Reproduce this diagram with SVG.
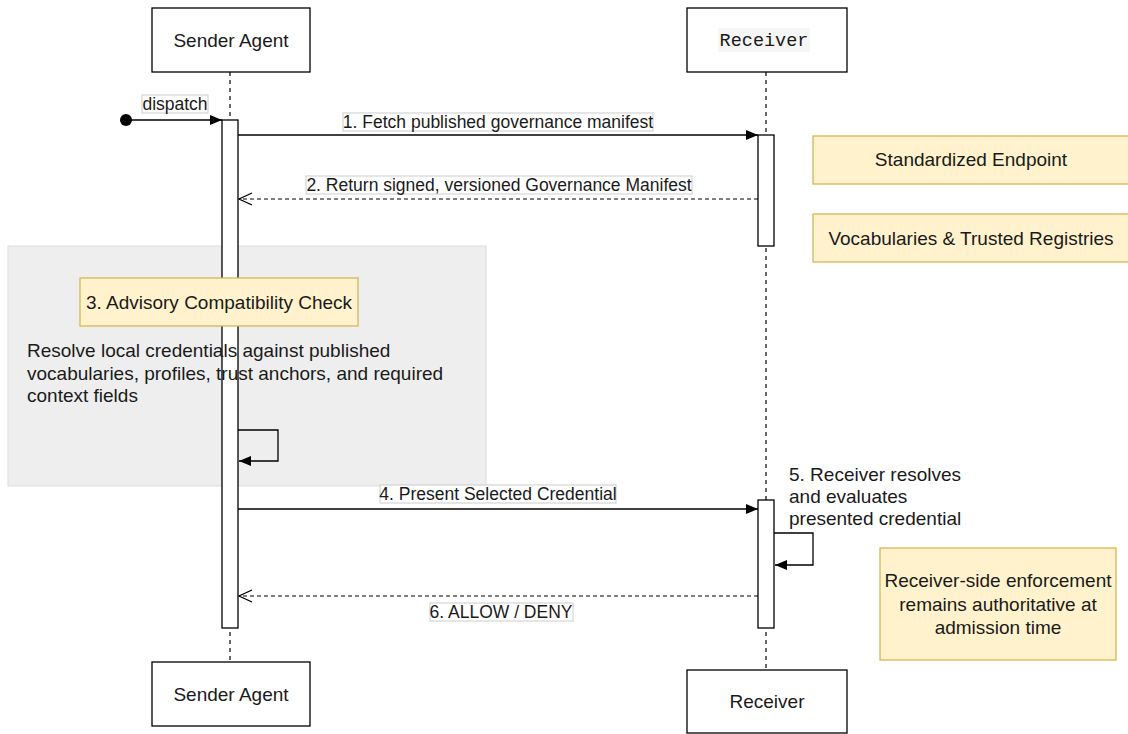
<svg xmlns="http://www.w3.org/2000/svg" width="1128" height="734" viewBox="0 0 1128 734">
<defs>
<style>
.t{font-family:"Liberation Sans",Arial,sans-serif;fill:#1a1a1a}
.n{font-size:19px}
.l{font-size:17.5px}
.box{fill:#ffffff;stroke:#000;stroke-width:1.3}
.note{fill:#fff2cc;stroke:#d6b656;stroke-width:1.3}
.life{stroke:#000;stroke-width:1.2;stroke-dasharray:4 4;fill:none}
.act{fill:#ffffff;stroke:#000;stroke-width:1.3}
.msg{stroke:#000;stroke-width:1.3;fill:none}
.ret{stroke:#000;stroke-width:1.2;fill:none;stroke-dasharray:4 3}
.lbg{fill:#ffffff;stroke:#cccccc;stroke-width:1}
</style>
<marker id="block" markerUnits="userSpaceOnUse" markerWidth="14" markerHeight="12" refX="13" refY="6" orient="auto">
<path d="M1,1 L13,6 L1,11 Z" fill="#000"/>
</marker>
<marker id="open" markerUnits="userSpaceOnUse" markerWidth="16" markerHeight="14" refX="14" refY="7" orient="auto">
<path d="M1,1 L14,7 L1,13" fill="none" stroke="#000" stroke-width="1.3"/>
</marker>
</defs>
<rect width="1128" height="734" fill="#ffffff"/>

<g id="lifelines">
<line class="life" x1="230" y1="72" x2="230" y2="662"/>
<line class="life" x1="766" y1="72" x2="766" y2="670"/>
</g>

<g id="sender-top">
<rect class="box" x="152" y="8" width="158" height="64"/>
<text class="t n" x="231" y="47" text-anchor="middle">Sender Agent</text>
</g>
<g id="receiver-top">
<rect class="box" x="687" y="8" width="160" height="64"/>
<rect x="718" y="28" width="92" height="24" fill="#f6f6f6"/>
<text x="764" y="46" text-anchor="middle" font-family="'Liberation Mono','Courier New',monospace" font-size="18.5" fill="#1a1a1a">Receiver</text>
</g>

<g id="region-check">
<rect x="8" y="246" width="478" height="240" fill="#eeeeee" stroke="#dddddd" stroke-width="1"/>
</g>

<g id="sender-activation">
<rect class="act" x="222" y="120" width="16" height="508"/>
</g>
<g id="receiver-activation-1">
<rect class="act" x="758" y="135" width="16" height="111"/>
</g>
<g id="receiver-activation-2">
<rect class="act" x="758" y="500" width="16" height="128"/>
</g>

<g id="check-note">
<rect class="note" x="80" y="278" width="278" height="48"/>
<text class="t n" x="219" y="309" text-anchor="middle">3. Advisory Compatibility Check</text>
</g>
<g id="check-text">
<text class="t n" x="27" y="357">Resolve local credentials against published</text>
<text class="t n" x="27" y="380">vocabularies, profiles, trust anchors, and required</text>
<text class="t n" x="27" y="402">context fields</text>
</g>

<g id="standardized-endpoint">
<rect class="note" x="813" y="136" width="320" height="48"/>
<text class="t n" x="971" y="166" text-anchor="middle">Standardized Endpoint</text>
</g>
<g id="vocabularies">
<rect class="note" x="813" y="214" width="320" height="48"/>
<text class="t n" x="971" y="245" text-anchor="middle">Vocabularies &amp; Trusted Registries</text>
</g>

<g id="receiver-step5">
<text class="t n" x="789" y="481">5. Receiver resolves</text>
<text class="t n" x="789" y="503">and evaluates</text>
<text class="t n" x="789" y="525">presented credential</text>
</g>

<g id="enforcement-note">
<rect class="note" x="880" y="548" width="236" height="112"/>
<text class="t n" x="998" y="587" text-anchor="middle">Receiver-side enforcement</text>
<text class="t n" x="998" y="611" text-anchor="middle">remains authoritative at</text>
<text class="t n" x="998" y="634" text-anchor="middle">admission time</text>
</g>

<g id="sender-bottom">
<rect class="box" x="152" y="662" width="158" height="64"/>
<text class="t n" x="231" y="701" text-anchor="middle">Sender Agent</text>
</g>
<g id="receiver-bottom">
<rect class="box" x="687" y="670" width="160" height="63"/>
<text class="t n" x="767" y="708" text-anchor="middle">Receiver</text>
</g>

<g id="connectors">
<circle cx="126" cy="120" r="6" fill="#000"/>
<line class="msg" x1="126" y1="120" x2="222" y2="120" marker-end="url(#block)"/>
<rect class="lbg" x="142" y="95" width="66" height="18"/>
<text class="t l" x="175" y="110" text-anchor="middle">dispatch</text>

<line class="msg" x1="238" y1="135" x2="758" y2="135" marker-end="url(#block)"/>
<rect class="lbg" x="343" y="113" width="310" height="18"/>
<text class="t l" x="498" y="128" text-anchor="middle">1. Fetch published governance manifest</text>

<line class="ret" x1="758" y1="199" x2="239" y2="199" marker-end="url(#open)"/>
<rect class="lbg" x="306" y="176" width="386" height="18"/>
<text class="t l" x="499" y="191" text-anchor="middle">2. Return signed, versioned Governance Manifest</text>

<path class="msg" d="M238,430 H278 V461 H239" marker-end="url(#block)"/>

<line class="msg" x1="238" y1="509" x2="758" y2="509" marker-end="url(#block)"/>
<rect class="lbg" x="380" y="485" width="236" height="18"/>
<text class="t l" x="498" y="500" text-anchor="middle">4. Present Selected Credential</text>

<path class="msg" d="M774,533 H813 V565 H775" marker-end="url(#block)"/>

<line class="ret" x1="758" y1="596" x2="239" y2="596" marker-end="url(#open)"/>
<rect class="lbg" x="430" y="603" width="143" height="18"/>
<text class="t l" x="501" y="618" text-anchor="middle">6. ALLOW / DENY</text>
</g>
</svg>
